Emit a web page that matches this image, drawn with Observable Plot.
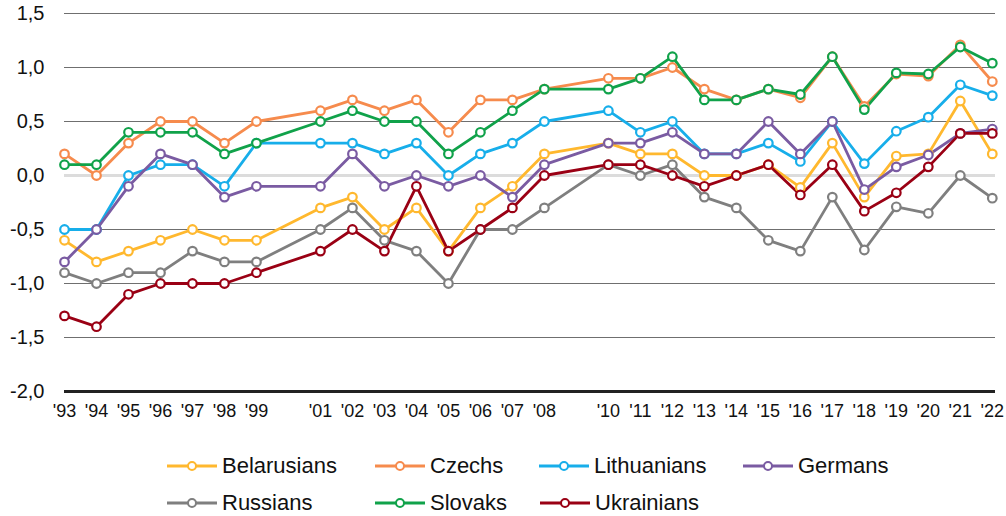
<!DOCTYPE html>
<html>
<head>
<meta charset="utf-8">
<script src="https://cdn.jsdelivr.net/npm/d3@7"></script>
<script src="https://cdn.jsdelivr.net/npm/@observablehq/plot@0.6"></script>
<style>
  html, body { margin: 0; padding: 0; background: #fff; }
  #wrap { position: relative; width: 1006px; height: 516px; overflow: hidden; }
  #legend { position: absolute; left: 0; top: 0; width: 1006px; height: 516px; pointer-events: none; }
  .item { position: absolute; display: flex; align-items: center; font-family: "Liberation Sans", Arial, sans-serif; font-size: 22px; color: #111; }
  .item svg { display: block; margin-right: 5px; }
</style>
</head>
<body>
<div id="wrap"><div id="chart"></div><div id="legend"></div></div>
<script>
const years = [1993,1994,1995,1996,1997,1998,1999,2001,2002,2003,2004,2005,2006,2007,2008,2010,2011,2012,2013,2014,2015,2016,2017,2018,2019,2020,2021,2022];
const seriesNames = ["Belarusians","Czechs","Lithuanians","Germans","Russians","Slovaks","Ukrainians"];
const seriesColors = ["#FFB82E","#F68B4D","#17AEEA","#7A5BA2","#7F7F7F","#10A24A","#9A0014"];

const belarusians = [-0.6,-0.8,-0.7,-0.6,-0.5,-0.6,-0.6,-0.3,-0.2,-0.5,-0.3,-0.7,-0.3,-0.1,0.2,0.3,0.2,0.2,0.0,0.0,0.1,-0.11,0.3,-0.2,0.18,0.2,0.69,0.2];
const czechs      = [0.2,0.0,0.3,0.5,0.5,0.3,0.5,0.6,0.7,0.6,0.7,0.4,0.7,0.7,0.8,0.9,0.9,1.0,0.8,0.7,0.8,0.72,1.1,0.64,0.94,0.92,1.21,0.87];
const lithuanians = [-0.5,-0.5,0.0,0.1,0.1,-0.1,0.3,0.3,0.3,0.2,0.3,0.0,0.2,0.3,0.5,0.6,0.4,0.5,0.2,0.2,0.3,0.13,0.5,0.11,0.41,0.54,0.84,0.74];
const germans     = [-0.8,-0.5,-0.1,0.2,0.1,-0.2,-0.1,-0.1,0.2,-0.1,0.0,-0.1,0.0,-0.2,0.1,0.3,0.3,0.4,0.2,0.2,0.5,0.2,0.5,-0.13,0.08,0.19,0.39,0.43];
const russians    = [-0.9,-1.0,-0.9,-0.9,-0.7,-0.8,-0.8,-0.5,-0.3,-0.6,-0.7,-1.0,-0.5,-0.5,-0.3,0.1,0.0,0.1,-0.2,-0.3,-0.6,-0.7,-0.2,-0.69,-0.29,-0.35,0.0,-0.21];
const slovaks     = [0.1,0.1,0.4,0.4,0.4,0.2,0.3,0.5,0.6,0.5,0.5,0.2,0.4,0.6,0.8,0.8,0.9,1.1,0.7,0.7,0.8,0.75,1.1,0.61,0.95,0.94,1.19,1.04];
const ukrainians  = [-1.3,-1.4,-1.1,-1.0,-1.0,-1.0,-0.9,-0.7,-0.5,-0.7,-0.1,-0.7,-0.5,-0.3,0.0,0.1,0.1,0.0,-0.1,0.0,0.1,-0.18,0.1,-0.33,-0.16,0.08,0.39,0.39];

const yTicks = [1.5,1.0,0.5,0.0,-0.5,-1.0,-1.5,-2.0];
const gridTicks = [1.5,1.0,0.5,-0.5,-1.0,-1.5];

const allSeries = [belarusians,czechs,lithuanians,germans,russians,slovaks,ukrainians];
const data = [];
allSeries.forEach((vals, si) => {
  vals.forEach((v, i) => data.push({series: seriesNames[si], year: years[i], value: v}));
});

const colorScale = {domain: seriesNames, range: seriesColors};
const yFmt = d => d3.format(".1f")(d).replace(".", ",").replace("−", "-");
const xFmt = d => "'" + String(d).slice(2);

const chart = Plot.plot({
  width: 1006,
  height: 440,
  marginLeft: 64,
  marginRight: 11,
  marginTop: 13,
  marginBottom: 49,
  style: {background: "#fff", overflow: "visible"},
  x: {domain: [1993, 2022.1], label: null},
  y: {domain: [-2, 1.5], label: null},
  color: colorScale,
  marks: [
    Plot.ruleY(gridTicks, {stroke: "#6f6f6f", strokeWidth: 1.2}),
    Plot.ruleY([0], {stroke: "#dcdcdc", strokeWidth: 3}),
    Plot.ruleY([-2], {stroke: "#222", strokeWidth: 3}),
    Plot.axisX({ticks: years, tickFormat: xFmt, tickSize: 0, tickPadding: 13, fontSize: 18, fontFamily: "'Liberation Sans Narrow', 'Liberation Sans', Arial", fill: "#111"}),
    Plot.axisY({ticks: yTicks, tickFormat: yFmt, tickSize: 0, tickPadding: 20, fontSize: 20, fontFamily: "'Liberation Sans', Arial", fill: "#111", style: {letterSpacing: "2.5px"}}),
    Plot.line(data, {x: "year", y: "value", z: "series", stroke: "series", strokeWidth: 2.8}),
    Plot.dot(data, {x: "year", y: "value", stroke: "series", fill: "#fff", r: 4.3, strokeWidth: 2.2})
  ]
});
document.getElementById("chart").appendChild(chart);

// Legend
const legendPos = [
  {left: 167, top: 466}, {left: 375, top: 466}, {left: 539, top: 466}, {left: 743, top: 466},
  {left: 167, top: 503}, {left: 375, top: 503}, {left: 540, top: 503}
];
const legend = document.getElementById("legend");
seriesNames.forEach((name, i) => {
  const div = document.createElement("div");
  div.className = "item";
  div.style.left = legendPos[i].left + "px";
  div.style.top = (legendPos[i].top - 13) + "px";
  div.style.height = "26px";
  const c = seriesColors[i];
  div.innerHTML = `<svg width="50" height="14"><line x1="0" y1="7" x2="50" y2="7" stroke="${c}" stroke-width="3"/><circle cx="25" cy="7" r="4" fill="#fff" stroke="${c}" stroke-width="2"/></svg><span>${name}</span>`;
  legend.appendChild(div);
});
</script>
</body>
</html>
